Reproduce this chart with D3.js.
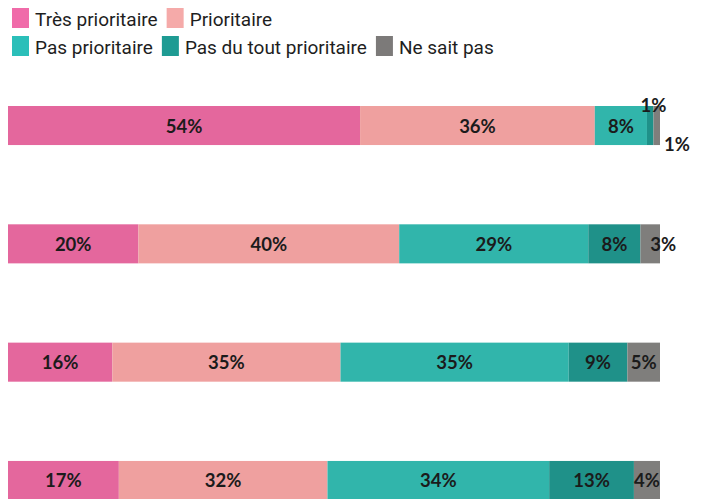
<!DOCTYPE html>
<html>
<head>
<meta charset="utf-8">
<script src="https://cdn.jsdelivr.net/npm/d3@7"></script>
<style>
  html, body { margin: 0; padding: 0; background: #fff; }
  svg { display: block; }
</style>
</head>
<body>
<div id="chart"></div>
<script>
// Données
const rows = ['r1', 'r2', 'r3', 'r4'];
const series = ['Très prioritaire', 'Prioritaire', 'Pas prioritaire', 'Pas du tout prioritaire', 'Ne sait pas'];
const tresPrioritaire = [54, 20, 16, 17];
const prioritaire = [36, 40, 35, 32];
const pasPrioritaire = [8, 29, 35, 34];
const pasDuTout = [1, 8, 9, 13];
const neSaitPas = [1, 3, 5, 4];

const barColors = ['#e4679d', '#efa09f', '#31b5ab', '#1f9189', '#7f7e7c'];
const legendColors = ['#f06ba9', '#f5aaa9', '#2bbfb9', '#1e9b93', '#7c7a79'];
const legendRows = [[0, 1], [2, 3, 4]];

const W = 708, H = 499;

const table = rows.map((r, i) => ({
  row: r,
  [series[0]]: tresPrioritaire[i],
  [series[1]]: prioritaire[i],
  [series[2]]: pasPrioritaire[i],
  [series[3]]: pasDuTout[i],
  [series[4]]: neSaitPas[i]
}));

const stacked = d3.stack().keys(series)(table);

const svg = d3.select('#chart').append('svg')
  .attr('width', W).attr('height', H);

const x = d3.scaleLinear().domain([0, 100]).range([8, 660]);
const y = d3.scaleBand().domain(rows).range([106, 500]).paddingInner(0.67).paddingOuter(0);

// Barres
const layers = svg.selectAll('g.layer')
  .data(stacked)
  .enter().append('g')
  .attr('class', 'layer')
  .attr('fill', (d, i) => barColors[i]);

layers.selectAll('rect')
  .data(d => d)
  .enter().append('rect')
  .attr('x', d => x(d[0]))
  .attr('y', d => y(d.data.row))
  .attr('width', d => x(d[1]) - x(d[0]))
  .attr('height', y.bandwidth());

// Etiquettes
const labelFont = 'Lato, "Open Sans", sans-serif';
const labels = [];
stacked.forEach((layer, si) => {
  layer.forEach(d => {
    labels.push({ si, d, v: d[1] - d[0] });
  });
});

// petits segments (< 2%) : un au-dessus, le suivant au-dessous
const tinyCount = {};
labels.forEach(l => {
  const x0 = x(l.d[0]), x1 = x(l.d[1]);
  const w = x1 - x0;
  const top = y(l.d.data.row);
  const mid = top + y.bandwidth() / 2;
  let tx, ty, anchor;
  if (l.v < 2) {
    const k = tinyCount[l.d.data.row] = (tinyCount[l.d.data.row] || 0) + 1;
    if (k === 1) { tx = x1; ty = top + 6; anchor = 'middle'; }
    else { tx = x1 + 4; ty = top + y.bandwidth() + 6; anchor = 'start'; }
  } else if (w < 22) {
    tx = (x0 + x1) / 2; ty = mid + 7; anchor = 'start';
  } else {
    tx = (x0 + x1) / 2; ty = mid + 7; anchor = 'middle';
  }
  svg.append('text')
    .attr('x', tx).attr('y', ty)
    .attr('text-anchor', anchor)
    .attr('font-family', labelFont)
    .attr('font-weight', 700)
    .attr('font-size', 18.5)
    .attr('fill', '#1b1b1b')
    .text(l.v + '%');
});

// Légende
const legFont = 'Roboto, sans-serif';
const leg = svg.append('g');
legendRows.forEach((items, ri) => {
  let cx = 12;
  const top = 8 + ri * 28;
  items.forEach(si => {
    leg.append('rect')
      .attr('x', cx).attr('y', top)
      .attr('width', 17).attr('height', 20)
      .attr('fill', legendColors[si]);
    const t = leg.append('text')
      .attr('x', cx + 23).attr('y', top + 18)
      .attr('font-family', legFont)
      .attr('font-size', 19)
      .attr('fill', '#1e1e1e')
      .text(series[si]);
    cx += 23 + t.node().getComputedTextLength() + 9;
  });
});
</script>
</body>
</html>
